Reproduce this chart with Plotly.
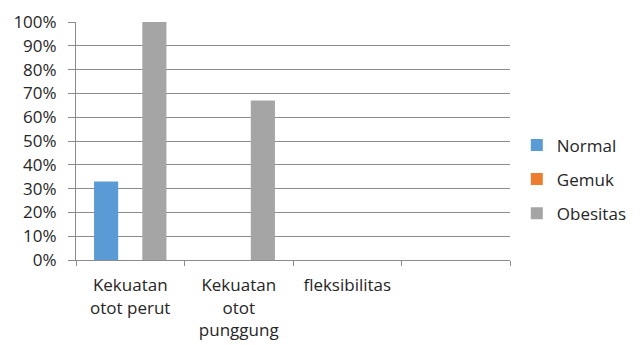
import plotly.graph_objects as go

categories = ["Kekuatan<br>otot perut", "Kekuatan<br>otot<br>punggung", "fleksibilitas", " "]
normal = [0.33, 0, 0, 0]
gemuk = [0, 0, 0, 0]
obesitas = [1.00, 0.67, 0, 0]
series_names = ["Normal", "Gemuk", "Obesitas"]
colors = ["#5B9BD5", "#ED7D31", "#A5A5A5"]

FONT = "Open Sans"
TXT = "#262626"
GRID = "#8C8C8C"
FS = 17

fig = go.Figure()
for i, (name, vals, col) in enumerate(zip(series_names, [normal, gemuk, obesitas], colors)):
    fig.add_trace(go.Bar(x=categories, y=vals, name=name, marker=dict(color=col, line=dict(width=0)),
                         legendgroup=name))

fig.update_layout(
    width=642, height=345,
    margin=dict(l=76, r=132, t=22, b=85, autoexpand=False),
    paper_bgcolor="white", plot_bgcolor="white",
    barmode="group", bargap=0.333, bargroupgap=0,
    font=dict(family=FONT, size=FS, color=TXT),
    showlegend=True,
    legend=dict(x=0.805, y=0.48, xref="container", yref="container",
                xanchor="left", yanchor="middle",
                font=dict(family=FONT, size=FS, color=TXT),
                tracegroupgap=9, itemwidth=30, bgcolor="rgba(0,0,0,0)"),
)
fig.update_yaxes(range=[0, 1], dtick=0.1, tickformat=".0%", showgrid=True, gridcolor=GRID,
                 gridwidth=1, showline=True, linecolor=GRID, linewidth=1,
                 ticks="outside", ticklen=7, tickcolor=GRID, zeroline=False,
                 ticklabelstandoff=8,
                 tickfont=dict(family=FONT, size=FS, color=TXT), fixedrange=True)
fig.update_xaxes(type="category", range=[-0.5, 3.5], tickson="boundaries", ticks="outside",
                 ticklen=5, tickcolor=GRID, showline=True, linecolor=GRID, linewidth=1,
                 ticklabelstandoff=10,
                 showgrid=False, tickfont=dict(family=FONT, size=FS, color=TXT), fixedrange=True)

fig.write_html("out.html")
